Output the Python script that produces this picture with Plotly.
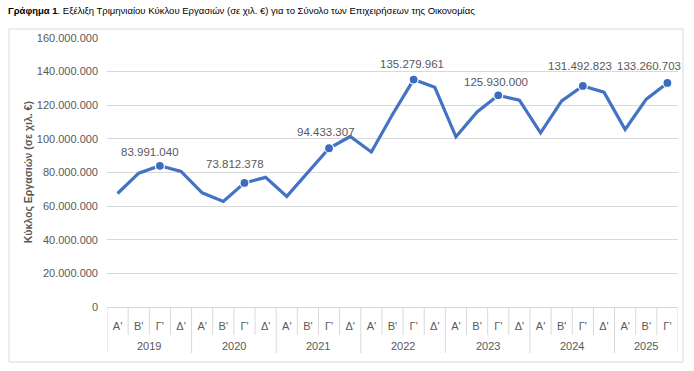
import plotly.graph_objects as go

years = ["2019"] * 4 + ["2020"] * 4 + ["2021"] * 4 + ["2022"] * 4 + ["2023"] * 4 + ["2024"] * 4 + ["2025"] * 3
quarters = ["Α'", "Β'", "Γ'", "Δ'"] * 6 + ["Α'", "Β'", "Γ'"]
turnover = [
    67500000, 79600000, 83991040, 80600000,
    67900000, 62800000, 73812378, 77100000,
    65800000, 80100000, 94433307, 101400000,
    92200000, 114500000, 135279961, 130700000,
    101200000, 116000000, 125930000, 123000000,
    103600000, 122600000, 131492823, 127800000,
    105600000, 123600000, 133260703,
]
labelled = [2, 6, 10, 14, 18, 22, 26]
y_ticks = [0, 20000000, 40000000, 60000000, 80000000, 100000000, 120000000, 140000000, 160000000]

BLUE = "#4472C4"
MARK = "#3B6CC0"
GREY = "#595959"
LIGHT = "#D9D9D9"
FONT = "Liberation Sans, Arial, sans-serif"

idx = list(range(len(quarters)))

fig = go.Figure()
fig.add_trace(go.Scatter(
    x=idx, y=turnover, mode="lines",
    line=dict(color=BLUE, width=3.2), hoverinfo="skip", showlegend=False,
))
fig.add_trace(go.Scatter(
    x=[idx[i] for i in labelled], y=[turnover[i] for i in labelled], mode="markers",
    marker=dict(color=MARK, size=9, line=dict(color="white", width=1.2)),
    showlegend=False,
))

label_shift = {2: (-10, 14), 6: (-9, 19), 10: (-3, 16), 14: (-2, 16), 18: (-2, 13), 22: (-3, 20), 26: (-18, 17)}
for i in labelled:
    dx, dy = label_shift[i]
    fig.add_annotation(
        x=idx[i], y=turnover[i], text=f"{turnover[i]:,}".replace(",", "."),
        showarrow=False, xshift=dx, yshift=dy,
        font=dict(size=11.5, color=GREY, family=FONT),
    )

# quarter cell separators and year group dividers below the axis
year_names = list(dict.fromkeys(years))
boundaries = {-0.5}
for yname in year_names:
    members = [i for i, y in enumerate(years) if y == yname]
    boundaries.add(members[-1] + 0.5)
    fig.add_annotation(
        x=sum(members) / len(members), xref="x", yref="paper", y=-0.145,
        yanchor="middle", text=yname, showarrow=False,
        font=dict(size=11, color=GREY, family=FONT),
    )
for i in range(len(quarters) + 1):
    b = i - 0.5
    fig.add_shape(type="line", xref="x", yref="paper",
                  x0=b, x1=b, y0=0, y1=-0.171 if b in boundaries else -0.104,
                  line=dict(color=LIGHT, width=1))

fig.add_annotation(
    xref="paper", yref="paper", x=-0.152, y=0.50, textangle=-90,
    text="<b>Κύκλος Εργασιών (σε χιλ. €)</b>", showarrow=False,
    font=dict(size=10.5, color=GREY, family=FONT),
)

fig.add_shape(type="rect", xref="paper", yref="paper",
              x0=-0.1716, x1=1.0088, y0=-0.2045, y1=1.0335,
              line=dict(color=LIGHT, width=1), layer="below")

fig.update_layout(
    width=694, height=371,
    margin=dict(l=107, r=16, t=38, b=64, autoexpand=False),
    paper_bgcolor="white", plot_bgcolor="white",
    separators=",.",
    font=dict(family=FONT, color=GREY, size=11),
    title=dict(
        text="<b>Γράφημα 1</b>. Εξέλιξη Τριμηνιαίου Κύκλου Εργασιών (σε χιλ. €) για το Σύνολο των Επιχειρήσεων της Οικονομίας",
        x=0.0115, xanchor="left", y=0.972, yanchor="middle",
        font=dict(size=9.5, color="black", family=FONT),
    ),
)
fig.update_xaxes(
    range=[-0.5, len(quarters) - 0.5], tickvals=idx, ticktext=quarters,
    showline=True, linecolor=LIGHT, linewidth=1, ticks="", automargin=False,
    showgrid=False, zeroline=False, ticklabelstandoff=9,
    tickfont=dict(size=11, color=GREY, family=FONT),
)
fig.update_yaxes(
    range=[0, 160000000], tickvals=y_ticks, tickformat=",d", automargin=False,
    showgrid=True, gridcolor=LIGHT, gridwidth=1, zeroline=False,
    ticklabelstandoff=8, tickfont=dict(size=11, color=GREY, family=FONT),
)

fig.write_html("out.html", config={"displayModeBar": False},
               post_script="document.body.style.margin='0';")
